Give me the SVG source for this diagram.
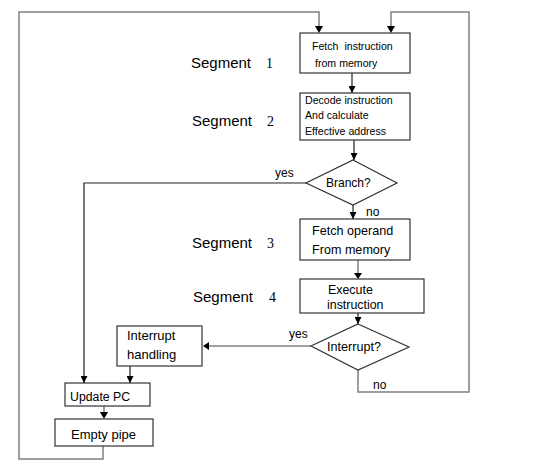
<svg xmlns="http://www.w3.org/2000/svg" width="534" height="470" viewBox="0 0 534 470">
<style>
.box{fill:#fff;stroke:#333;stroke-width:1.2}
.ln{fill:none;stroke:#222;stroke-width:1.2}
.lg{fill:none;stroke:#808080;stroke-width:1.5}
.t{font-family:"Liberation Sans",Arial,sans-serif;fill:#000}
.s{font-family:"Liberation Sans",Arial,sans-serif;font-size:15px;fill:#000}
.n{font-family:"Liberation Serif","Times New Roman",serif;font-size:14px;fill:#000}
</style>
<defs>
<marker id="ah" viewBox="0 0 10 10" refX="10" refY="5" markerWidth="7" markerHeight="7" markerUnits="userSpaceOnUse" orient="auto">
<path d="M0,0 L10,5 L0,10 z" fill="#000"/>
</marker>
</defs>
<rect width="534" height="470" fill="#fff"/>

<g id="labels">
<text class="s" x="191" y="68">Segment</text><text class="n" x="266" y="68">1</text>
<text class="s" x="192" y="126">Segment</text><text class="n" x="267" y="126">2</text>
<text class="s" x="192" y="248">Segment</text><text class="n" x="267" y="248">3</text>
<text class="s" x="193" y="302">Segment</text><text class="n" x="269" y="302">4</text>
</g>

<g id="connectors">
<polyline class="lg" points="103,446 103,459 19,459 19,12 319,12 319,27"/>
<polygon points="315,26 323,26 319,33" fill="#000"/>
<polyline class="lg" points="358,370 358,392 469,392 469,12 391,12 391,27"/>
<polygon points="387,26 395,26 391,33" fill="#000"/>
<line class="ln" x1="352" y1="73" x2="352" y2="93" marker-end="url(#ah)"/>
<line class="ln" x1="354" y1="140" x2="354" y2="160" marker-end="url(#ah)"/>
<polyline class="ln" points="306,183 84,183 84,383" marker-end="url(#ah)"/>
<line class="ln" x1="353" y1="205" x2="353" y2="219" marker-end="url(#ah)"/>
<line class="lg" x1="358" y1="260" x2="358" y2="274"/>
<polygon points="354,273 362,273 358,279" fill="#000"/>
<line class="ln" x1="358" y1="313" x2="358" y2="324" marker-end="url(#ah)"/>
<line class="lg" x1="311" y1="346" x2="209" y2="346"/>
<polygon points="209,342 209,350 203,346" fill="#000"/>
<line class="ln" x1="130" y1="366" x2="130" y2="383" marker-end="url(#ah)"/>
<line class="lg" x1="104" y1="406" x2="104" y2="413"/>
<polygon points="100,412 108,412 104,419" fill="#000"/>
<text class="t" x="275" y="177" font-size="12">yes</text>
<text class="t" x="366" y="216" font-size="12">no</text>
<text class="t" x="289" y="338" font-size="12">yes</text>
<text class="t" x="373" y="389" font-size="12">no</text>
</g>

<g id="fetch">
<rect class="box" x="300" y="33" width="110" height="40"/>
<text class="t" x="312" y="50" font-size="10.6" xml:space="preserve">Fetch  instruction</text>
<text class="t" x="315" y="67" font-size="10.6">from memory</text>
</g>

<g id="decode">
<rect class="box" x="300" y="93" width="110" height="47"/>
<text class="t" x="305" y="104" font-size="10.6">Decode instruction</text>
<text class="t" x="305" y="119" font-size="10.6">And calculate</text>
<text class="t" x="305" y="135" font-size="10.6">Effective address</text>
</g>

<g id="branch">
<polygon class="box" points="353,160 397,183 353,205 306,183"/>
<text class="t" x="326" y="187" font-size="12">Branch?</text>
</g>

<g id="fetchop">
<rect class="box" x="300" y="219" width="110" height="41"/>
<text class="t" x="312" y="235" font-size="12.6">Fetch operand</text>
<text class="t" x="312" y="254" font-size="12.6">From memory</text>
</g>

<g id="execute">
<rect class="box" x="300" y="279" width="124" height="34"/>
<text class="t" x="328" y="294" font-size="12.4">Execute</text>
<text class="t" x="327" y="309" font-size="12.4">instruction</text>
</g>

<g id="interrupt">
<polygon class="box" points="358,324 409,347 358,370 311,346"/>
<text class="t" x="327" y="351" font-size="12.6">Interrupt?</text>
</g>

<g id="handling">
<rect class="box" x="117" y="326" width="85" height="40"/>
<text class="t" x="127" y="340" font-size="13">Interrupt</text>
<text class="t" x="127" y="359" font-size="13">handling</text>
</g>

<g id="updatepc">
<rect class="box" x="65" y="383" width="85" height="23"/>
<text class="t" x="70" y="401" font-size="12.3">Update PC</text>
</g>

<g id="emptypipe">
<rect class="box" x="55" y="419" width="98" height="27"/>
<text class="t" x="71" y="439" font-size="13">Empty pipe</text>
</g>
</svg>
